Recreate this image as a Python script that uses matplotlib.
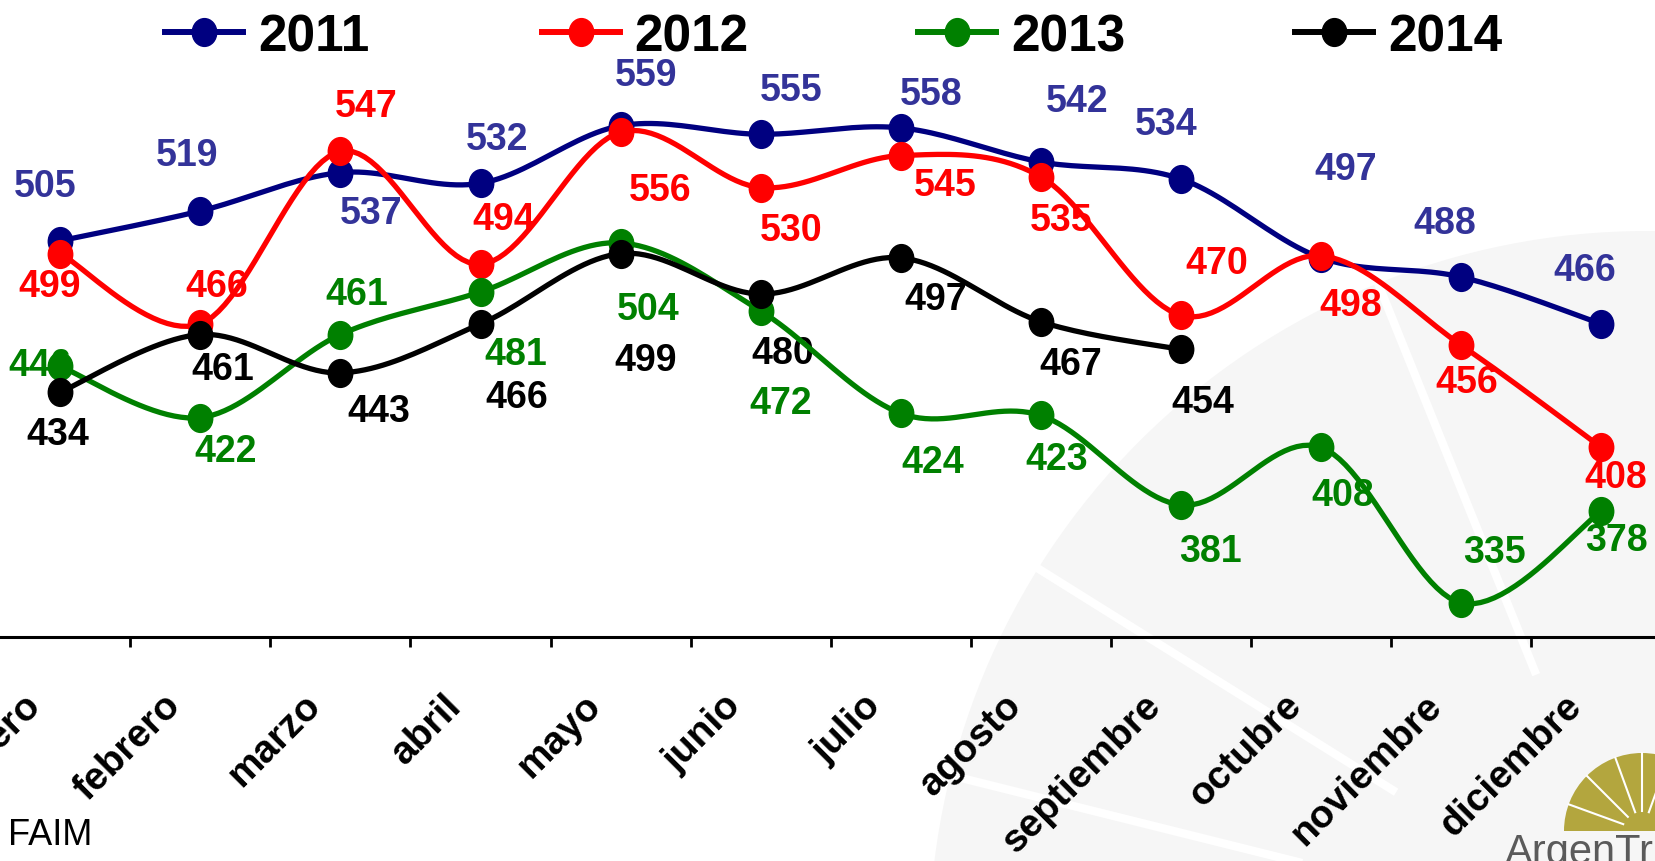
import numpy as np
import matplotlib
matplotlib.use('Agg')
import matplotlib.pyplot as plt
from matplotlib.lines import Line2D
from matplotlib.patches import Circle, Wedge
from matplotlib.path import Path
from matplotlib.transforms import IdentityTransform, ScaledTranslation

plt.rcParams['font.family'] = ['Liberation Sans', 'DejaVu Sans']

# data
months = ['enero', 'febrero', 'marzo', 'abril', 'mayo', 'junio', 'julio',
          'agosto', 'septiembre', 'octubre', 'noviembre', 'diciembre']
years = ['2011', '2012', '2013', '2014']
v2011 = [505, 519, 537, 532, 559, 555, 558, 542, 534, 497, 488, 466]
v2012 = [499, 466, 547, 494, 556, 530, 545, 535, 470, 498, 456, 408]
v2013 = [446, 422, 461, 481, 504, 472, 424, 423, 381, 408, 335, 378]
v2014 = [434, 461, 443, 466, 499, 480, 497, 467, 454]

line_colors = ['#000080', '#ff0000', '#008000', '#000000']
label_colors = ['#333399', '#ff0000', '#008000', '#000000']

# label offsets from the point (pixels of the reference, right/down positive)
off2011 = [(-14, -52), (-13, -53), (29, 38), (16, -42), (24, -48), (29, -42),
           (29, -32), (34, -58), (-14, -52), (23, -84), (-16, -51), (-16, -51)]
off2012 = [(-10, 31), (16, -36), (24, -43), (22, -43), (37, 55), (29, 40),
           (42, 28), (19, 41), (34, -50), (28, 47), (5, 35), (14, 28)]
off2013 = [(-19, -1), (24, 32), (15, -38), (33, 59), (26, 63), (19, 87),
           (30, 46), (15, 41), (28, 44), (20, 45), (31, -48), (14, 27)]
off2014 = [(-2, 40), (21, 33), (36, 36), (34, 69), (24, 101), (21, 56),
           (33, 39), (28, 40), (21, 50)]

series = [v2011, v2012, v2013, v2014]
offsets = [off2011, off2012, off2013, off2014]


def smooth(xs, ys, n=24):
    # Catmull-Rom style bezier, like the spreadsheet "smoothed line"
    p = np.column_stack([xs, ys]).astype(float)
    out = [p[0]]
    t = np.linspace(0, 1, n)[1:, None]
    for i in range(len(p) - 1):
        p0 = p[i - 1] if i > 0 else p[i]
        p1, p2 = p[i], p[i + 1]
        p3 = p[i + 2] if i + 2 < len(p) else p[i + 1]
        c1 = p1 + (p2 - p0) / 6
        c2 = p2 - (p3 - p1) / 6
        seg = ((1 - t) ** 3) * p1 + 3 * ((1 - t) ** 2) * t * c1 + 3 * (1 - t) * t ** 2 * c2 + t ** 3 * p2
        out.extend(seg)
    out = np.array(out)
    return out[:, 0], out[:, 1]


uc = Path.unit_circle()
egg = Path(uc.vertices * [0.88, 1.0], uc.codes)

fig = plt.figure(figsize=(16.56, 8.62), dpi=100)

# faint watermark + logo
fig.add_artist(Circle((1647, -88), 718, transform=IdentityTransform(),
                      facecolor='#f6f6f6', edgecolor='none', zorder=-2))
for ang in [112, 148, 166]:
    a = np.radians(ang)
    fig.add_artist(Line2D([1647 + 300 * np.cos(a), 1647 + 720 * np.cos(a)],
                          [-88 + 300 * np.sin(a), -88 + 720 * np.sin(a)],
                          transform=IdentityTransform(), color='white', lw=6, zorder=-1))
fig.add_artist(Wedge((1642, 30), 78, 0, 180, transform=IdentityTransform(),
                     facecolor='#b3a63e', edgecolor='none', zorder=-1))
for ang in [20, 45, 70, 90, 110, 135, 160]:
    a = np.radians(ang)
    fig.add_artist(Line2D([1642 + 20 * np.cos(a), 1642 + 78 * np.cos(a)],
                          [30 + 20 * np.sin(a), 30 + 78 * np.sin(a)],
                          transform=IdentityTransform(), color='white', lw=1.5, zorder=-1))
fig.text(1505 / 1656, -0.002, 'ArgenTrigo', fontsize=30, color='#5a5a5a', va='baseline')
fig.text(8 / 1656, 0.0197, 'FAIM', fontsize=26, color='black', va='baseline')

ax = fig.add_axes([0, 0.2598, 1, 0.7402])
ax.patch.set_visible(False)

k = 0.76
for yi, (vals, offs) in enumerate(zip(series, offsets)):
    x = np.arange(len(vals))
    sx, sy = smooth(x, vals)
    ax.plot(sx, sy, color=line_colors[yi], lw=3.8, zorder=3 + yi, solid_capstyle='round')
    ax.plot(x, vals, linestyle='none', marker=egg, markersize=20,
            color=line_colors[yi], zorder=3 + yi)
    for xi, v, (dx, dy) in zip(x, vals, offs):
        ax.annotate(str(v), (xi, v), xytext=(dx * k, -dy * k), textcoords='offset points',
                    ha='center', va='center', fontsize=27, fontweight='bold',
                    color=label_colors[yi], zorder=2)

for s in ['top', 'left', 'right']:
    ax.spines[s].set_visible(False)
ax.spines['bottom'].set_linewidth(2.2)
ax.set_yticks([])
ax.set_xticks(np.arange(-0.5, 12, 1))
ax.set_xticklabels([])
ax.tick_params(axis='x', which='major', length=7, width=2, direction='out')
ax.set_xticks(np.arange(12), months, minor=True)
ax.tick_params(axis='x', which='minor', length=0, pad=45, labelsize=28)
shift = ScaledTranslation(-18 / 72, 0, fig.dpi_scale_trans)
for lab in ax.get_xticklabels(minor=True):
    lab.set_rotation(45)
    lab.set_ha('right')
    lab.set_va('center')
    lab.set_rotation_mode('anchor')
    lab.set_fontweight('bold')
    lab.set_transform(lab.get_transform() + shift)
ax.set_xlim(-0.43, 11.39)
ax.set_ylim(319, 618.5)

# legend row across the top
for i, yr in enumerate(years):
    x0 = 165 + 376.7 * i
    yc = 862 - 32.5
    fig.add_artist(Line2D([x0, x0 + 39, x0 + 78], [yc, yc, yc], transform=IdentityTransform(),
                          color=line_colors[i], lw=4.3, marker=egg, markersize=20,
                          markevery=[1]))
    fig.text((x0 + 93) / 1656, yc / 862, yr, fontsize=37, fontweight='bold',
             va='center_baseline', ha='left')

fig.savefig('out.png', dpi=100)
